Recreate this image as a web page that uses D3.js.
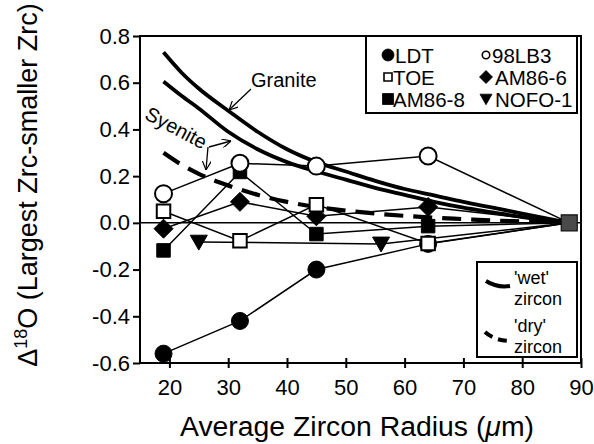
<!DOCTYPE html>
<html>
<head>
<meta charset="utf-8">
<script src="https://cdn.jsdelivr.net/npm/d3@7"></script>
<style>
  body { margin: 0; background: #fff; }
  svg { display: block; }
  text { font-family: "Liberation Sans", Arial, Helvetica, sans-serif; fill: #000; }
</style>
</head>
<body>
<svg id="chart" width="594" height="444"></svg>
<script>
// ---- measured samples: average zircon radius (µm) vs Δ18O ----
const radiusMain = [19, 32, 45, 64];
const deltaLDT   = [-0.56, -0.42, -0.20, -0.09];
const delta98LB3 = [0.125, 0.255, 0.243, 0.286];
const deltaTOE   = [0.05, -0.077, 0.078, -0.088];
const deltaAM866 = [-0.025, 0.09, 0.028, 0.068];
const deltaAM868 = [-0.118, 0.218, -0.048, -0.014];
const radiusNOFO = [25, 56];
const deltaNOFO  = [-0.082, -0.09];

// every series is referenced to the largest zircon fraction
const sharedRadius = 88;
const sharedDelta = 0;

// ---- diffusion model curves ----
const modelRadius = [19, 22, 25, 30, 35, 40, 45, 50, 55, 60, 65, 70, 75, 80, 88];
const graniteWet  = [0.73, 0.645, 0.575, 0.48, 0.39, 0.315, 0.26, 0.22, 0.18, 0.145, 0.118, 0.09, 0.065, 0.04, 0];
const syeniteWet  = [0.605, 0.545, 0.49, 0.39, 0.315, 0.26, 0.22, 0.185, 0.15, 0.12, 0.09, 0.065, 0.045, 0.025, 0];
const syeniteDry  = [0.30, 0.25, 0.21, 0.16, 0.12, 0.09, 0.068, 0.052, 0.04, 0.03, 0.022, 0.016, 0.01, 0.006, 0];

// ---- axis ticks ----
const xTicks = [20, 30, 40, 50, 60, 70, 80, 90];
const yTicks = [-0.6, -0.4, -0.2, 0, 0.2, 0.4, 0.6, 0.8];

const series = [
  { name: "LDT",    radius: radiusMain, delta: deltaLDT,   symbol: "circle",   filled: true  },
  { name: "98LB3",  radius: radiusMain, delta: delta98LB3, symbol: "circle",   filled: false },
  { name: "TOE",    radius: radiusMain, delta: deltaTOE,   symbol: "square",   filled: false },
  { name: "AM86-6", radius: radiusMain, delta: deltaAM866, symbol: "diamond",  filled: true  },
  { name: "AM86-8", radius: radiusMain, delta: deltaAM868, symbol: "square",   filled: true  },
  { name: "NOFO-1", radius: radiusNOFO, delta: deltaNOFO,  symbol: "triangle", filled: true  }
];

const svg = d3.select("#chart");
const plotLeft = 140, plotRight = 581, plotTop = 36, plotBottom = 363;

const x = d3.scaleLinear().domain([15, 90]).range([plotLeft, plotRight]);
const y = d3.scaleLinear().domain([-0.6, 0.8]).range([plotBottom, plotTop]);

// marker outline, s = nominal size in px
function symbolPath(type, s) {
  const h = s / 2;
  if (type === "circle") return `M${h},0A${h},${h} 0 1,1 ${-h},0A${h},${h} 0 1,1 ${h},0Z`;
  if (type === "square") return `M${-h},${-h}H${h}V${h}H${-h}Z`;
  if (type === "diamond") return `M0,${-h}L${h},0L0,${h}L${-h},0Z`;
  if (type === "triangle") return `M${-h},${-h * 0.8}H${h}L0,${h * 0.95}Z`;
  return "";
}
const plotSize = { circle: 17, square: 13.5, diamond: 19, triangle: 17 };

// zero reference line
svg.append("line")
  .attr("x1", plotLeft).attr("x2", plotRight)
  .attr("y1", y(0)).attr("y2", y(0))
  .attr("stroke", "#000").attr("stroke-width", 1.5);

// model curves
const curveLine = d3.line()
  .x((d, i) => x(modelRadius[i]))
  .y(d => y(d))
  .curve(d3.curveMonotoneX);

svg.append("path").attr("d", curveLine(graniteWet))
  .attr("fill", "none").attr("stroke", "#000").attr("stroke-width", 3.8);
svg.append("path").attr("d", curveLine(syeniteWet))
  .attr("fill", "none").attr("stroke", "#000").attr("stroke-width", 3.8);
svg.append("path").attr("d", curveLine(syeniteDry))
  .attr("fill", "none").attr("stroke", "#000").attr("stroke-width", 4.2)
  .attr("stroke-dasharray", "19,10");

// sample connecting lines
const sampleLine = d3.line().x(d => x(d[0])).y(d => y(d[1]));
series.forEach(s => {
  const pts = s.radius.map((r, i) => [r, s.delta[i]]).concat([[sharedRadius, sharedDelta]]);
  svg.append("path").attr("d", sampleLine(pts))
    .attr("fill", "none").attr("stroke", "#000").attr("stroke-width", 1.5);
});

// sample markers
const drawOrder = ["LDT", "AM86-8", "AM86-6", "NOFO-1", "TOE", "98LB3"];
drawOrder.forEach(name => {
  const s = series.find(d => d.name === name);
  s.radius.forEach((r, i) => {
    svg.append("path")
      .attr("d", symbolPath(s.symbol, plotSize[s.symbol]))
      .attr("transform", `translate(${x(r)},${y(s.delta[i])})`)
      .attr("fill", s.filled ? "#000" : "#fff")
      .attr("stroke", "#000")
      .attr("stroke-width", s.filled ? 1 : 2);
  });
});

// shared reference point
svg.append("path")
  .attr("d", symbolPath("square", 16))
  .attr("transform", `translate(${x(sharedRadius)},${y(sharedDelta)})`)
  .attr("fill", "#4a4a4a").attr("stroke", "#111").attr("stroke-width", 1.2);

// frame
svg.append("rect")
  .attr("x", plotLeft).attr("y", plotTop)
  .attr("width", plotRight - plotLeft).attr("height", plotBottom - plotTop)
  .attr("fill", "none").attr("stroke", "#000").attr("stroke-width", 2);

// x axis
const xAxis = svg.append("g")
  .attr("transform", `translate(0,${plotBottom})`)
  .call(d3.axisBottom(x).tickValues(xTicks).tickSize(5).tickFormat(d3.format("d")));
xAxis.select(".domain").remove();
xAxis.selectAll(".tick line").attr("y1", -5).attr("y2", 5).attr("stroke-width", 2);
xAxis.selectAll(".tick text").attr("y", 32).attr("dy", null)
  .attr("font-size", 22).attr("font-family", null);

// y axis
const yAxis = svg.append("g")
  .attr("transform", `translate(${plotLeft},0)`)
  .call(d3.axisLeft(y).tickValues(yTicks).tickSize(7).tickPadding(3)
    .tickFormat(d => d.toFixed(1)));
yAxis.select(".domain").remove();
yAxis.selectAll(".tick line").attr("stroke-width", 2);
yAxis.selectAll(".tick text").attr("font-size", 22).attr("font-family", null);

// axis titles
const xTitle = svg.append("text")
  .attr("x", 357).attr("y", 436)
  .attr("text-anchor", "middle").attr("font-size", 27)
  .attr("textLength", 354).attr("lengthAdjust", "spacingAndGlyphs");
xTitle.append("tspan").text("Average Zircon Radius (");
xTitle.append("tspan").text("μ").attr("font-style", "italic");
xTitle.append("tspan").text("m)");

const yTitle = svg.append("text")
  .attr("transform", "translate(37,185) rotate(-90)")
  .attr("text-anchor", "middle").attr("font-size", 27);
yTitle.append("tspan").text("Δ");
yTitle.append("tspan").text("18").attr("font-size", 18).attr("dy", -10);
yTitle.append("tspan").text("O (Largest Zrc-smaller Zrc)").attr("dy", 10);

// annotations with arrows
const defs = svg.append("defs");
defs.append("marker")
  .attr("id", "arrow")
  .attr("viewBox", "0 0 10 10")
  .attr("refX", 10).attr("refY", 5)
  .attr("markerWidth", 9).attr("markerHeight", 9)
  .attr("markerUnits", "userSpaceOnUse")
  .attr("orient", "auto")
  .append("path").attr("d", "M0,0L10,5L0,10")
  .attr("fill", "none").attr("stroke", "#000").attr("stroke-width", 1.3);

svg.append("text").attr("x", 251).attr("y", 87).attr("font-size", 20).text("Granite");
svg.append("line").attr("x1", 251).attr("y1", 89).attr("x2", 229).attr("y2", 110)
  .attr("stroke", "#000").attr("stroke-width", 1.3).attr("marker-end", "url(#arrow)");

svg.append("text").attr("transform", "translate(173,134) rotate(28)")
  .attr("text-anchor", "middle").attr("font-size", 20).text("Syenite");
svg.append("line").attr("x1", 209).attr("y1", 147).attr("x2", 231).attr("y2", 141)
  .attr("stroke", "#000").attr("stroke-width", 1.3).attr("marker-end", "url(#arrow)");
svg.append("line").attr("x1", 208).attr("y1", 147).attr("x2", 206).attr("y2", 170)
  .attr("stroke", "#000").attr("stroke-width", 1.3).attr("marker-end", "url(#arrow)");

// sample legend
const legend = svg.append("g");
legend.append("rect").attr("x", 366).attr("y", plotTop).attr("width", 211).attr("height", 77)
  .attr("fill", "#fff").attr("stroke", "#000").attr("stroke-width", 2);
const legendSize = { "LDT": 12, "98LB3": 7.5, "TOE": 8, "AM86-6": 13, "AM86-8": 11, "NOFO-1": 12 };
const legendCols = [388, 486];
const legendRows = [55, 77, 99];
const legendTextX = [395, 492];
series.forEach((s, i) => {
  const col = i % 2, row = Math.floor(i / 2);
  const cx = legendCols[col], cy = legendRows[row];
  legend.append("path")
    .attr("d", symbolPath(s.symbol, legendSize[s.name]))
    .attr("transform", `translate(${cx},${cy})`)
    .attr("fill", s.filled ? "#000" : "#fff")
    .attr("stroke", "#000").attr("stroke-width", s.filled ? 0.8 : 1.6);
  legend.append("text")
    .attr("x", legendTextX[col] + (s.symbol === "diamond" || s.symbol === "triangle" ? 3 : 0) + (col === 0 && s.symbol === "square" ? -2 : 0))
    .attr("y", cy + 7.5)
    .attr("font-size", 20.5)
    .text(s.name);
});

// model legend
const mLegend = svg.append("g");
mLegend.append("rect").attr("x", 477).attr("y", 262).attr("width", 100).attr("height", 95)
  .attr("fill", "#fff").attr("stroke", "#000").attr("stroke-width", 2);
mLegend.append("path").attr("d", "M486,281 Q497,288 510,286")
  .attr("fill", "none").attr("stroke", "#000").attr("stroke-width", 4);
mLegend.append("path").attr("d", "M485,332 Q495,341 511,341")
  .attr("fill", "none").attr("stroke", "#000").attr("stroke-width", 4)
  .attr("stroke-dasharray", "9,6");
// two-line labels
[["'wet'", "zircon", 284], ["'dry'", "zircon", 332]].forEach(([l1, l2, yy]) => {
  const t = mLegend.append("text").attr("x", 514).attr("y", yy).attr("font-size", 18);
  t.append("tspan").attr("x", 514).text(l1);
  t.append("tspan").attr("x", 514).attr("dy", 21).text(l2);
});
</script>
</body>
</html>
